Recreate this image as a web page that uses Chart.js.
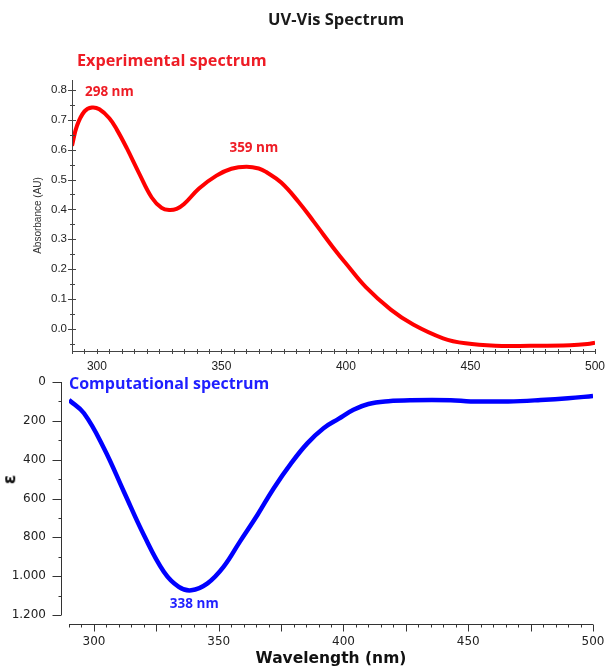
<!DOCTYPE html>
<html>
<head>
<meta charset="utf-8">
<title>UV-Vis Spectrum</title>
<script src="https://cdn.jsdelivr.net/npm/chart.js@4.4.1/dist/chart.umd.min.js"></script>
<style>
  body { margin: 0; background: #fff; }
  #wrap { position: relative; width: 605px; height: 668px; overflow: hidden; background: #fff; }
  canvas { position: absolute; left: 0; }
  .lbl { position: absolute; white-space: nowrap; font-family: "Open Sans", sans-serif; font-weight: bold; line-height: 1; }
</style>
</head>
<body>
<div id="wrap">
  <canvas id="expChart" width="605" height="375" style="top:0"></canvas>
  <canvas id="compChart" width="605" height="308" style="top:360px"></canvas>
  <div class="lbl" style="left:268px;top:11px;font-size:16.5px;color:#1a1a1a">UV-Vis Spectrum</div>
  <div class="lbl" style="left:77px;top:52px;font-size:16.2px;color:#ee1c25">Experimental spectrum</div>
  <div class="lbl" style="left:69px;top:375px;font-size:16px;color:#1f1fff">Computational spectrum</div>
  <div class="lbl" style="left:5px;top:471px;font-size:17px;color:#111;font-family:'DejaVu Sans',sans-serif;transform:rotate(-90deg)">ε</div>
</div>

<script>
// experimental spectrum (absorbance, AU)
const expWavelengths = [290, 292, 295, 298, 301, 305, 308, 312, 317, 322, 326, 329, 332, 335, 341, 348, 354, 360, 365, 368, 374, 381, 387, 396, 400, 408, 418, 427, 439, 448, 460, 474, 490, 497, 500];
const expAbsorbance = [0.613, 0.68, 0.728, 0.741, 0.735, 0.705, 0.667, 0.605, 0.52, 0.44, 0.405, 0.398, 0.402, 0.418, 0.47, 0.513, 0.536, 0.543, 0.537, 0.525, 0.49, 0.425, 0.36, 0.26, 0.219, 0.14, 0.065, 0.015, -0.031, -0.048, -0.056, -0.056, -0.054, -0.05, -0.046];
const expPeaks = [298, 359];

// computational spectrum (epsilon, drawn downwards)
const compWavelengths = [290, 296, 304, 312, 320, 328, 334, 339, 345.5, 352, 358.5, 365.5, 372, 379, 385.5, 392, 398, 404, 410, 418, 427, 443, 451, 466, 479, 490, 500];
const compEpsilon = [93, 161, 341, 565, 788, 977, 1055, 1073, 1037, 951, 822, 685, 548, 419, 316, 238, 190, 143, 113, 99, 94, 94, 100, 100, 93, 84, 72];
const compPeaks = [338];

const xLabels = [300, 350, 400, 450, 500];
const expYLabels = [0.0, 0.1, 0.2, 0.3, 0.4, 0.5, 0.6, 0.7, 0.8];
const compYLabels = [0, 200, 400, 600, 800, 1000, 1200];

function steps(from, to, step) {
  const out = [];
  for (let v = from; v <= to + 1e-9; v += step) out.push(Math.round(v * 1000) / 1000);
  return out;
}
function isIn(list, v) {
  return list.some(l => Math.abs(l - v) < 1e-6);
}
function fmtThousands(v) {
  return String(v).replace(/\B(?=(\d{3})+(?!\d))/g, '.');
}
function noPad(s) {
  s.paddingLeft = 0; s.paddingRight = 0; s.paddingTop = 0; s.paddingBottom = 0;
}

const topFont = { family: '"Liberation Sans", Arial, sans-serif', size: 11.5 };
const botFont = { family: '"DejaVu Sans", Verdana, sans-serif', size: 12 };

// top chart: experimental
new Chart(document.getElementById('expChart'), {
  type: 'scatter',
  data: {
    datasets: [{
      data: expWavelengths.map((w, i) => ({ x: w, y: expAbsorbance[i] })),
      showLine: true,
      borderColor: '#ff0000',
      borderWidth: 4,
      pointRadius: 0,
      tension: 0.4
    }]
  },
  options: {
    responsive: false,
    animation: false,
    devicePixelRatio: 1,
    layout: { padding: { top: 80, right: 10, left: 0, bottom: 0 } },
    plugins: { legend: { display: false }, tooltip: { enabled: false } },
    scales: {
      x: {
        type: 'linear', min: 290, max: 500,
        grid: { display: false, drawTicks: false },
        border: { display: false },
        afterBuildTicks: s => { s.ticks = steps(290, 500, 5).map(v => ({ value: v })); },
        afterFit: s => { s.height = 24; noPad(s); },
        ticks: {
          autoSkip: false, maxRotation: 0, padding: 8, color: '#222', font: { ...topFont, size: 12 },
          callback: v => isIn(xLabels, v) ? String(v) : ''
        }
      },
      y: {
        min: -0.0736, max: 0.833,
        grid: { display: false, drawTicks: false },
        border: { display: false },
        afterBuildTicks: s => { s.ticks = steps(-0.05, 0.8, 0.05).map(v => ({ value: v })); },
        afterFit: s => { s.width = 72; noPad(s); },
        title: { display: true, text: 'Absorbance (AU)', color: '#333', font: { ...topFont, size: 10 }, padding: { top: 32, bottom: 0 } },
        ticks: {
          autoSkip: false, padding: 5, color: '#222', font: topFont,
          callback: v => isIn(expYLabels, v) ? v.toFixed(1) : ''
        }
      }
    }
  },
  plugins: [{
    id: 'expAxes',
    afterDraw(chart) {
      const { ctx, chartArea: a, scales: { x, y } } = chart;
      ctx.save();
      ctx.strokeStyle = '#444';
      ctx.lineWidth = 1;
      ctx.beginPath();
      ctx.moveTo(a.left + 0.5, a.top);
      ctx.lineTo(a.left + 0.5, a.bottom + 0.5);
      ctx.lineTo(a.right, a.bottom + 0.5);
      for (const t of x.ticks) {
        const px = Math.round(x.getPixelForValue(t.value)) + 0.5;
        ctx.moveTo(px, a.bottom - 2);
        ctx.lineTo(px, a.bottom + 3);
      }
      for (const t of y.ticks) {
        const py = Math.round(y.getPixelForValue(t.value)) + 0.5;
        const major = isIn(expYLabels, t.value);
        ctx.moveTo(a.left - (major ? 4 : 2), py);
        ctx.lineTo(a.left + (major ? 4 : 3), py);
      }
      ctx.stroke();
      // peak labels
      ctx.fillStyle = '#ee1c25';
      ctx.font = 'bold 13.5px "Open Sans", sans-serif';
      ctx.textAlign = 'center';
      ctx.textBaseline = 'middle';
      const spots = [[305, 0.793], [363, 0.606]];
      expPeaks.forEach((p, i) => {
        ctx.fillText(p + ' nm', x.getPixelForValue(spots[i][0]), y.getPixelForValue(spots[i][1]));
      });
      ctx.restore();
    }
  }]
});

// bottom chart: computational
new Chart(document.getElementById('compChart'), {
  type: 'scatter',
  data: {
    datasets: [{
      data: compWavelengths.map((w, i) => ({ x: w, y: compEpsilon[i] })),
      showLine: true,
      borderColor: '#0000ff',
      borderWidth: 4.5,
      pointRadius: 0,
      tension: 0.4
    }]
  },
  options: {
    responsive: false,
    animation: false,
    devicePixelRatio: 1,
    layout: { padding: { top: 22, right: 12, left: 0, bottom: 0 } },
    plugins: { legend: { display: false }, tooltip: { enabled: false } },
    scales: {
      x: {
        type: 'linear', min: 290, max: 500,
        grid: { display: false, drawTicks: false },
        border: { display: false },
        afterBuildTicks: s => { s.ticks = steps(290, 500, 5).map(v => ({ value: v })); },
        afterFit: s => { s.height = 43; noPad(s); },
        title: { display: true, text: 'Wavelength (nm)', color: '#111', font: { family: '"DejaVu Sans", Verdana, sans-serif', size: 15.5, weight: 'bold' }, padding: { top: 0, bottom: 0 } },
        ticks: {
          autoSkip: false, maxRotation: 0, padding: 10, color: '#222', font: botFont,
          callback: v => isIn(xLabels, v) ? String(v) : ''
        }
      },
      y: {
        reverse: true, min: 0, max: 1251.5,
        grid: { display: false, drawTicks: false },
        border: { display: false },
        afterBuildTicks: s => { s.ticks = steps(0, 1200, 100).map(v => ({ value: v })); },
        afterFit: s => { s.width = 69; noPad(s); },
        ticks: {
          autoSkip: false, padding: 23, color: '#222', font: botFont,
          callback: v => isIn(compYLabels, v) ? fmtThousands(v) : ''
        }
      }
    }
  },
  plugins: [{
    id: 'compAxes',
    afterDraw(chart) {
      const { ctx, chartArea: a, scales: { x, y } } = chart;
      const axisX = a.left - 8 + 0.5;
      const axisY = Math.round(a.bottom) - 0.5;
      ctx.save();
      ctx.strokeStyle = '#333';
      ctx.lineWidth = 1;
      ctx.beginPath();
      ctx.moveTo(axisX, y.getPixelForValue(0));
      ctx.lineTo(axisX, y.getPixelForValue(1200));
      for (const t of y.ticks) {
        const py = Math.round(y.getPixelForValue(t.value)) + 0.5;
        ctx.moveTo(axisX - (isIn(compYLabels, t.value) ? 9 : 3), py);
        ctx.lineTo(axisX, py);
      }
      ctx.moveTo(x.getPixelForValue(290), axisY);
      ctx.lineTo(x.getPixelForValue(500), axisY);
      for (const t of x.ticks) {
        const px = Math.round(x.getPixelForValue(t.value)) + 0.5;
        ctx.moveTo(px, axisY);
        ctx.lineTo(px, axisY + (t.value % 25 === 0 ? 7 : 3));
      }
      ctx.stroke();
      ctx.fillStyle = '#1f1fff';
      ctx.font = 'bold 13.5px "Open Sans", sans-serif';
      ctx.textAlign = 'center';
      ctx.textBaseline = 'middle';
      ctx.fillText(compPeaks[0] + ' nm', x.getPixelForValue(340.2), y.getPixelForValue(1143));
      ctx.restore();
    }
  }]
});
</script>
</body>
</html>
